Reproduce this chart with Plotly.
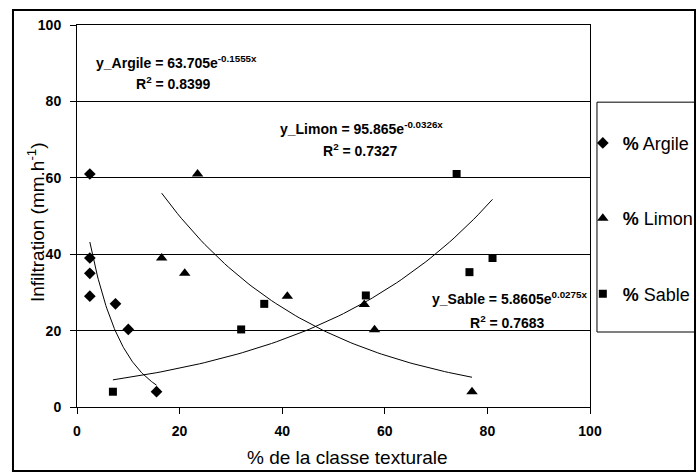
import numpy as np
import plotly.graph_objects as go

# ---- data ----
argile_x = [2.5, 2.5, 2.5, 2.5, 7.5, 10.0, 15.5]
argile_y = [61.0, 39.0, 35.0, 29.0, 27.0, 20.3, 4.0]

limon_x = [23.5, 16.5, 21.0, 41.0, 56.0, 58.0, 77.0]
limon_y = [61.0, 39.0, 35.0, 29.0, 26.8, 20.2, 4.0]

sable_x = [7.0, 32.0, 36.5, 56.3, 74.0, 76.5, 81.0]
sable_y = [4.0, 20.3, 27.0, 29.2, 61.0, 35.3, 39.0]

# exponential trend coefficients shown on the chart: y = a * exp(b x)
argile_fit = [63.705, -0.1555, 0.8399]
limon_fit = [95.865, -0.0326, 0.7327]
sable_fit = [5.8605, 0.0275, 0.7683]

x_ticks = [0, 20, 40, 60, 80, 100]
y_ticks = [0, 20, 40, 60, 80, 100]

FONT = "Arial, 'Liberation Sans', sans-serif"

fig = go.Figure()

series = [
    ("<b>%</b> Argile", argile_x, argile_y, argile_fit, "diamond", 9, "a"),
    ("<b>%</b> Limon", limon_x, limon_y, limon_fit, "triangle-up", 10, "l"),
    ("<b>%</b> Sable", sable_x, sable_y, sable_fit, "square", 8, "s"),
]

for name, xs, ys, fit, sym, size, grp in series:
    fig.add_trace(go.Scatter(
        x=xs, y=ys, mode="markers", name=name, legendgroup=grp,
        marker=dict(symbol=sym, size=size, color="black"),
    ))

for name, xs, ys, fit, sym, size, grp in series:
    xt = np.linspace(min(xs), max(xs), 80)
    yt = fit[0] * np.exp(fit[1] * xt)
    fig.add_trace(go.Scatter(
        x=xt, y=yt, mode="lines", showlegend=False, legendgroup=grp,
        line=dict(color="black", width=1), hoverinfo="skip",
    ))

def eq_text(label, fit):
    return f"<b>y_{label} = {fit[0]}e<sup>{fit[1]}x</sup></b>"

def r2_text(fit):
    return f"<b>R<sup>2</sup> = {fit[2]}</b>"

ann = [
    (eq_text("Argile", argile_fit), 19.3, 90.3),
    (r2_text(argile_fit), 18.8, 84.8),
    (eq_text("Limon", limon_fit), 55.5, 73.0),
    (r2_text(limon_fit), 55.2, 67.3),
    (eq_text("Sable", sable_fit), 84.4, 28.5),
    (r2_text(sable_fit), 84.0, 22.3),
]
for t, x, y in ann:
    fig.add_annotation(x=x, y=y, xref="x", yref="y", text=t, showarrow=False,
                       font=dict(family=FONT, size=14, color="black"),
                       xanchor="center", yanchor="middle")

# axis titles (placed like the reference)
fig.add_annotation(x=0.528, y=-0.133, xref="paper", yref="paper",
                   text="% de la classe texturale", showarrow=False,
                   font=dict(family=FONT, size=19, color="black"),
                   xanchor="center", yanchor="middle")
fig.add_annotation(x=-0.080, y=0.484, xref="paper", yref="paper",
                   text="Infiltration (mm.h<sup>-1</sup>)", showarrow=False,
                   textangle=-90,
                   font=dict(family=FONT, size=19, color="black"),
                   xanchor="center", yanchor="middle")

# outer chart frame and legend frame
fig.add_shape(type="rect", xref="paper", yref="paper",
              x0=-0.1248, x1=1.2047, y0=-0.1675, y1=1.039,
              line=dict(color="black", width=2), fillcolor="rgba(0,0,0,0)")
fig.add_shape(type="rect", xref="paper", yref="paper",
              x0=1.0136, x1=1.2047, y0=0.1963, y1=0.798,
              line=dict(color="black", width=1), fillcolor="rgba(0,0,0,0)")

fig.update_layout(
    width=700, height=472,
    margin=dict(l=77, r=110, t=25, b=65, autoexpand=False),
    paper_bgcolor="white", plot_bgcolor="white",
    font=dict(family=FONT, color="black"),
    showlegend=True,
    legend=dict(
        x=0.986, y=0.739, xanchor="left", yanchor="top",
        bgcolor="rgba(0,0,0,0)", borderwidth=0,
        font=dict(family=FONT, size=18, color="black"),
        tracegroupgap=49, itemwidth=30,
    ),
    xaxis=dict(
        range=[0, 100], tickvals=x_ticks, ticktext=[str(v) for v in x_ticks],
        showgrid=False, zeroline=False, automargin=False,
        showline=True, linecolor="black", linewidth=1, mirror=True,
        ticks="outside", ticklen=6, tickcolor="black", ticklabelstandoff=5,
        tickfont=dict(family=FONT, size=14, color="black", weight="bold"),
    ),
    yaxis=dict(
        range=[0, 100], tickvals=y_ticks, ticktext=[str(v) for v in y_ticks],
        showgrid=True, gridcolor="black", gridwidth=1, zeroline=False,
        automargin=False,
        showline=True, linecolor="black", linewidth=1, mirror=True,
        ticks="outside", ticklen=6, tickcolor="black", ticklabelstandoff=6,
        tickfont=dict(family=FONT, size=14, color="black", weight="bold"),
    ),
)

fig.write_html(
    "out.html",
    config={"displayModeBar": False},
    post_script="document.body.style.margin='0px';document.body.style.overflow='hidden';",
)
